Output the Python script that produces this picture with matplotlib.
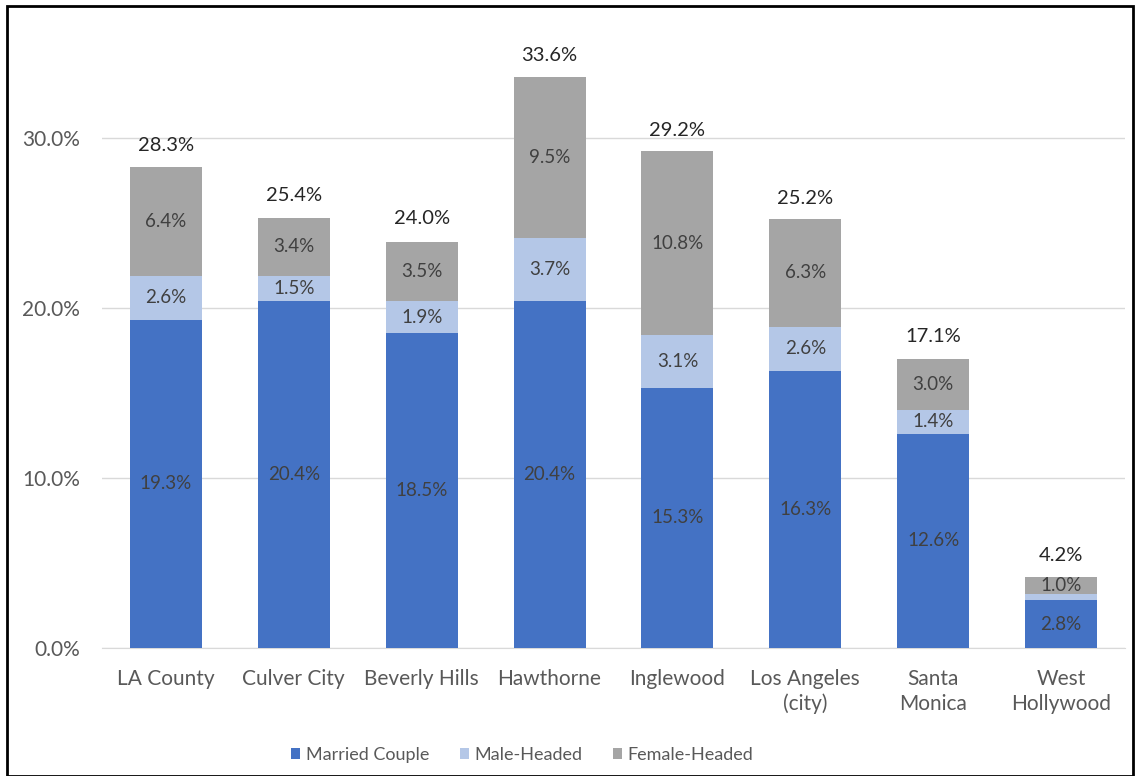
import matplotlib
matplotlib.use("Agg")
import matplotlib.pyplot as plt
from matplotlib.patches import Rectangle
import numpy as np

plt.rcParams['font.family'] = ['Lato', 'DejaVu Sans']

categories = ["LA County", "Culver City", "Beverly Hills", "Hawthorne",
              "Inglewood", "Los Angeles\n(city)", "Santa\nMonica", "West\nHollywood"]
married = [19.3, 20.4, 18.5, 20.4, 15.3, 16.3, 12.6, 2.8]
male = [2.6, 1.5, 1.9, 3.7, 3.1, 2.6, 1.4, 0.4]
female = [6.4, 3.4, 3.5, 9.5, 10.8, 6.3, 3.0, 1.0]
totals = [28.3, 25.4, 24.0, 33.6, 29.2, 25.2, 17.1, 4.2]
# segments too thin to carry a readable label
show_male_label = [True, True, True, True, True, True, True, False]

series_names = ["Married Couple", "Male-Headed", "Female-Headed"]
colors = ["#4472C4", "#B4C7E7", "#A5A5A5"]

fig = plt.figure(figsize=(11.38, 7.76), dpi=100)
ax = fig.add_axes([0.0896, 0.165, 0.899, 0.767])

x = np.arange(len(categories))
width = 0.5625
married_a = np.array(married)
male_a = np.array(male)
female_a = np.array(female)

b1 = ax.bar(x, married_a, width, color=colors[0], label=series_names[0], zorder=3)
b2 = ax.bar(x, male_a, width, bottom=married_a, color=colors[1], label=series_names[1], zorder=3)
b3 = ax.bar(x, female_a, width, bottom=married_a + male_a, color=colors[2], label=series_names[2], zorder=3)

lab_col = "#404040"
fs = 13.5
for i in range(len(x)):
    ax.text(x[i], married_a[i] / 2, f"{married[i]:.1f}%", ha="center", va="center",
            fontsize=fs, color=lab_col, zorder=4)
    if show_male_label[i]:
        ax.text(x[i], married_a[i] + male_a[i] / 2, f"{male[i]:.1f}%", ha="center", va="center",
                fontsize=fs, color=lab_col, zorder=4)
    ax.text(x[i], married_a[i] + male_a[i] + female_a[i] / 2, f"{female[i]:.1f}%", ha="center",
            va="center", fontsize=fs, color=lab_col, zorder=4)
    ax.annotate(f"{totals[i]:.1f}%", xy=(x[i], totals[i]), xytext=(0, 9),
                textcoords="offset points", ha="center", va="bottom",
                fontsize=14.5, color="#262626", zorder=4)

ax.set_xlim(-0.5, len(x) - 0.5)
ax.set_ylim(0, 35)
ax.set_yticks([0, 10, 20, 30])
ax.set_yticklabels([f"{v:.1f}%" for v in [0, 10, 20, 30]])
ax.set_xticks(x)
ax.set_xticklabels(categories, linespacing=1.3)
ax.grid(axis="y", color="#D9D9D9", linewidth=1, zorder=0)
for s in ["top", "right", "left"]:
    ax.spines[s].set_visible(False)
ax.spines["bottom"].set_color("#D9D9D9")
ax.tick_params(axis="both", length=0, labelsize=15, colors="#595959")
ax.tick_params(axis="y", pad=16)
ax.tick_params(axis="x", pad=15)

leg = fig.legend(handles=[b1, b2, b3], labels=series_names, loc="center",
                 bbox_to_anchor=(0.459, 0.027), ncol=3, frameon=False, fontsize=13,
                 handlelength=0.5, handleheight=0.5, handletextpad=0.3, columnspacing=1.7)
for t in leg.get_texts():
    t.set_color("#595959")

# outer frame
fig.patches.append(Rectangle((0.006, 0.0), 0.99, 0.992, transform=fig.transFigure,
                             fill=False, edgecolor="black", linewidth=2))

fig.savefig("out.png", dpi=100)
